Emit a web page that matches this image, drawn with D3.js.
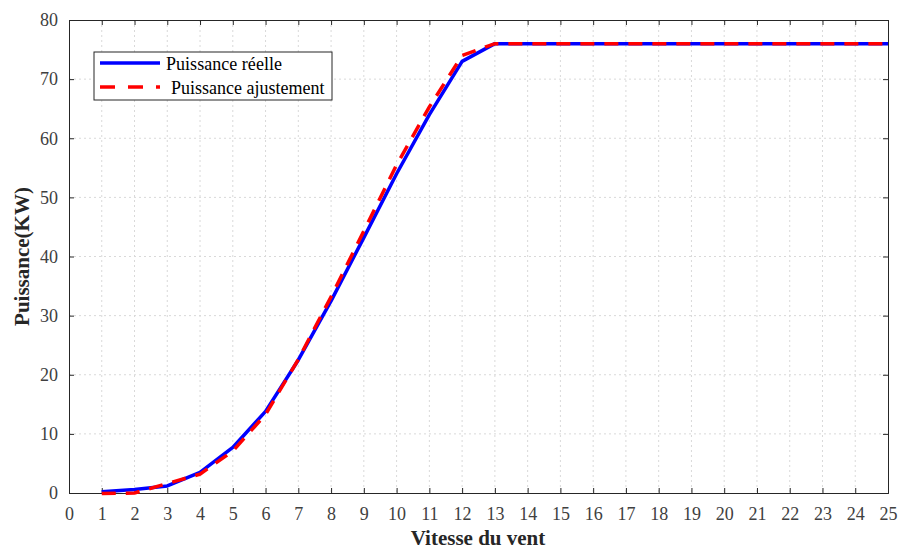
<!DOCTYPE html>
<html>
<head>
<meta charset="utf-8">
<script src="https://cdn.jsdelivr.net/npm/d3@7"></script>
<style>
  body { margin: 0; background: #fff; }
  svg { display: block; font-family: "Liberation Serif", serif; }
  text { font-family: "Liberation Serif", serif; }
</style>
</head>
<body>
<svg id="chart" width="900" height="551"></svg>
<script>
const vitesse = [1,2,3,4,5,6,7,8,9,10,11,12,13,14,15,16,17,18,19,20,21,22,23,24,25];
const puissanceReelle = [0.2,0.6,1.2,3.5,7.7,13.8,22.5,32.5,43.2,54,64,73,76,76,76,76,76,76,76,76,76,76,76,76,76];
const puissanceAjust = [-0.1,0,1.6,3.2,7.1,13.3,22.6,33.2,44.3,55.5,65.3,74,76,76,76,76,76,76,76,76,76,76,76,76,76];
const xTicks = d3.range(0, 26, 1);
const yTicks = [0,10,20,30,40,50,60,70,80];
const seriesNames = ["Puissance réelle", "Puissance ajustement"];
const xLabel = "Vitesse du vent";
const yLabel = "Puissance(KW)";

const FONT = '"Liberation Serif", serif';
const svg = d3.select("#chart");
const m = {left: 69, right: 888, top: 20, bottom: 493};
const x = d3.scaleLinear().domain([0, 25]).range([m.left, m.right]);
const y = d3.scaleLinear().domain([0, 80]).range([m.bottom, m.top]);

// grid
const grid = svg.append("g");
grid.selectAll("line.gx").data(xTicks.slice(1, -1)).join("line")
  .attr("x1", d => x(d)).attr("x2", d => x(d))
  .attr("y1", m.top).attr("y2", m.bottom)
  .attr("stroke", "#d9d9d9").attr("stroke-width", 1).attr("stroke-dasharray", "2,3");
grid.selectAll("line.gy").data(yTicks.slice(1, -1)).join("line")
  .attr("y1", d => y(d)).attr("y2", d => y(d))
  .attr("x1", m.left).attr("x2", m.right)
  .attr("stroke", "#d9d9d9").attr("stroke-width", 1).attr("stroke-dasharray", "2,3");

const axisColor = "#262626";
const labelColor = "#404040";

// axes
const xAxisB = svg.append("g").attr("transform", `translate(0,${m.bottom})`)
  .call(d3.axisBottom(x).tickValues(xTicks).tickSize(-5).tickPadding(14).tickFormat(d3.format("d")));
const xAxisT = svg.append("g").attr("transform", `translate(0,${m.top})`)
  .call(d3.axisTop(x).tickValues(xTicks).tickSize(-5).tickFormat(""));
const yAxisL = svg.append("g").attr("transform", `translate(${m.left},0)`)
  .call(d3.axisLeft(y).tickValues(yTicks).tickSize(-5).tickPadding(11).tickFormat(d3.format("d")));
const yAxisR = svg.append("g").attr("transform", `translate(${m.right},0)`)
  .call(d3.axisRight(y).tickValues(yTicks).tickSize(-5).tickFormat(""));
[xAxisB, xAxisT, yAxisL, yAxisR].forEach(g => {
  g.attr("font-family", FONT).attr("font-size", 18);
  g.selectAll("path.domain").attr("stroke", axisColor).attr("stroke-width", 1);
  g.selectAll(".tick line").attr("stroke", axisColor);
  g.selectAll(".tick text").attr("fill", labelColor);
});

// lines
const line = d3.line().x((d, i) => x(vitesse[i])).y(d => y(d));
const plot = svg.append("g");
plot.append("path").datum(puissanceReelle).attr("d", line)
  .attr("fill", "none").attr("stroke", "#0000ff").attr("stroke-width", 3.5)
  .attr("stroke-linejoin", "round");
plot.append("path").datum(puissanceAjust).attr("d", line)
  .attr("fill", "none").attr("stroke", "#ff0000").attr("stroke-width", 3.5)
  .attr("stroke-dasharray", "14,10");

// axis labels
svg.append("text").attr("x", 478).attr("y", 545)
  .attr("text-anchor", "middle").attr("font-weight", "bold")
  .attr("font-family", FONT).attr("font-size", 21)
  .attr("fill", "#262626").text(xLabel);
svg.append("text").attr("transform", `translate(29,${(m.top + m.bottom) / 2}) rotate(-90)`)
  .attr("text-anchor", "middle").attr("font-weight", "bold")
  .attr("font-family", FONT).attr("font-size", 21)
  .attr("fill", "#262626").text(yLabel);

// legend
const lg = svg.append("g");
lg.append("rect").attr("x", 94).attr("y", 52).attr("width", 238).attr("height", 48)
  .attr("fill", "#fff").attr("stroke", "#262626").attr("stroke-width", 1);
lg.append("line").attr("x1", 100).attr("x2", 160).attr("y1", 63).attr("y2", 63)
  .attr("stroke", "#0000ff").attr("stroke-width", 3.5);
lg.append("line").attr("x1", 100).attr("x2", 160).attr("y1", 87).attr("y2", 87)
  .attr("stroke", "#ff0000").attr("stroke-width", 3.5).attr("stroke-dasharray", "15,13");
lg.append("text").attr("x", 166).attr("y", 70).attr("font-family", FONT).attr("font-size", 18)
  .attr("textLength", 116).attr("lengthAdjust", "spacing")
  .attr("fill", "#000").text(seriesNames[0]);
lg.append("text").attr("x", 171).attr("y", 94).attr("font-family", FONT).attr("font-size", 18)
  .attr("fill", "#000").text(seriesNames[1]);
</script>
</body>
</html>
